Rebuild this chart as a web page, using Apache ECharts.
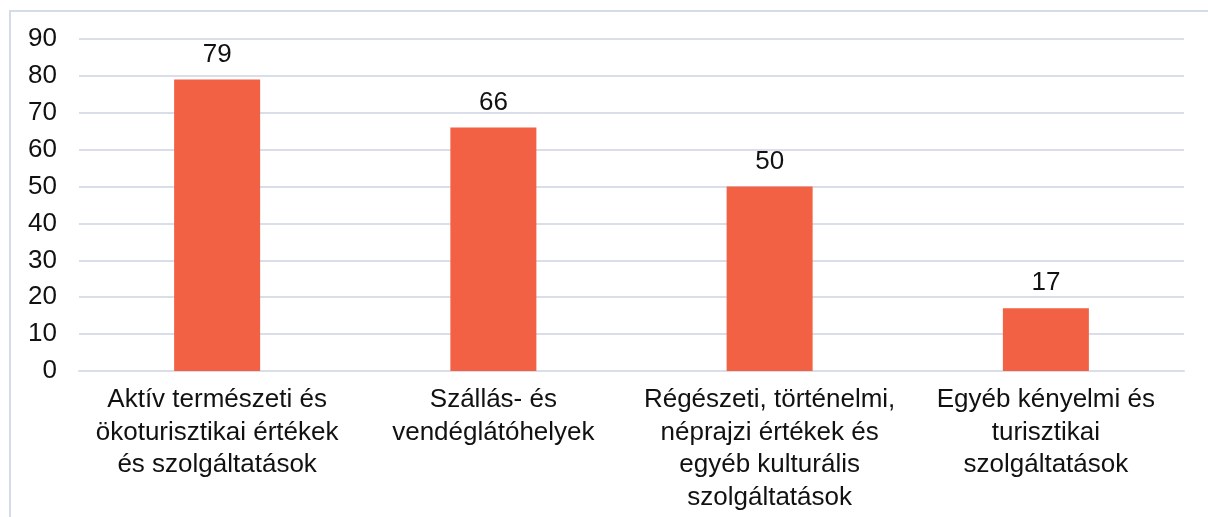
<!DOCTYPE html>
<html><head><meta charset="utf-8">
<script src="https://cdn.jsdelivr.net/npm/echarts@6/dist/echarts.min.js"></script>
<style>html,body{margin:0;padding:0;background:#fff;overflow:hidden;width:1208px;height:517px;}#frame{position:absolute;left:9px;top:10px;width:1199px;height:507px;border-left:2px solid #D6DCE5;border-top:2px solid #D6DCE5;box-sizing:border-box;}#c{position:absolute;left:0;top:0;width:1208px;height:517px;}</style>
</head><body><div id="frame"></div><div id="c"></div>
<script>
const categories = ["Aktív természeti és\nökoturisztikai értékek\nés szolgáltatások", "Szállás- és\nvendéglátóhelyek", "Régészeti, történelmi,\nnéprajzi értékek és\negyéb kulturális\nszolgáltatások", "Egyéb kényelmi és\nturisztikai\nszolgáltatások"];
const values = [79, 66, 50, 17];
const chart = echarts.init(document.getElementById('c'));
chart.setOption({
  animation: false,
  grid: {left: 79, right: 24, top: 39, bottom: 146},
  xAxis: {type: 'category', data: categories,
    axisLine: {show: true, lineStyle: {color: '#D9DEE8', width: 2}}, axisTick: {show: false},
    axisLabel: {color: '#111', fontSize: 26, fontFamily: 'Liberation Sans, Arial', lineHeight: 32.5, margin: 13, interval: 0}},
  yAxis: {type: 'value', min: 0, max: 90, interval: 10,
    axisLine: {show: false}, axisTick: {show: false},
    splitLine: {lineStyle: {color: '#D9DEE8', width: 2}},
    axisLabel: {color: '#111', fontSize: 26, fontFamily: 'Liberation Sans, Arial', margin: 22}},
  series: [{type: 'bar', data: values, barWidth: 86,
    itemStyle: {color: '#F26144'},
    label: {show: true, position: 'top', distance: 12, color: '#111', fontSize: 26, fontFamily: 'Liberation Sans, Arial'}}]
});
</script></body></html>
